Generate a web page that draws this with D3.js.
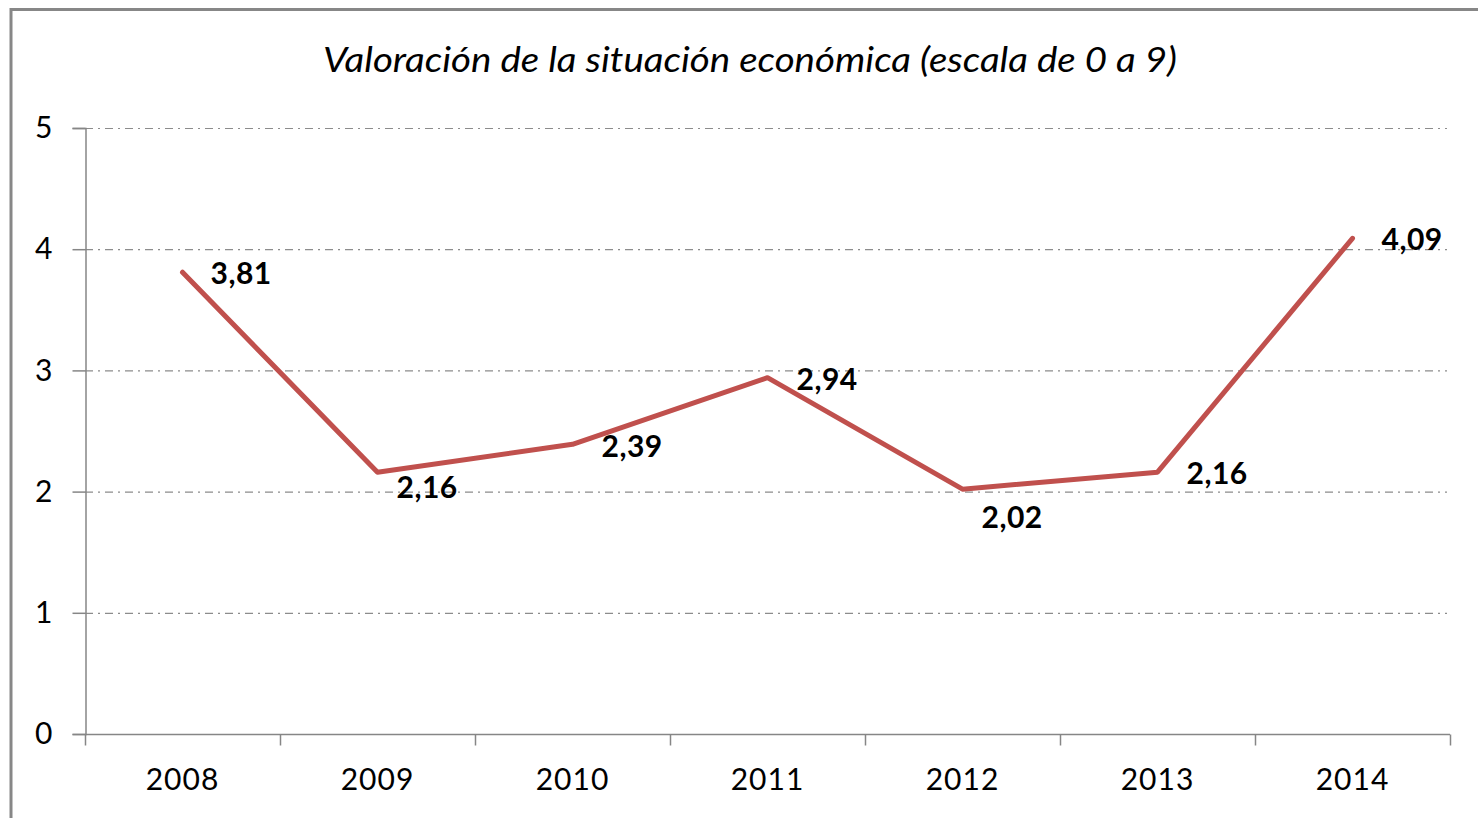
<!DOCTYPE html>
<html>
<head>
<meta charset="utf-8">
<script src="https://cdn.jsdelivr.net/npm/d3@7"></script>
<style>
  body { margin: 0; background: #fff; }
  svg { display: block; }
</style>
</head>
<body>
<svg id="chart" width="1478" height="818"></svg>
<script>
// chart data
var years = ["2008", "2009", "2010", "2011", "2012", "2013", "2014"];
var values = [3.81, 2.16, 2.39, 2.94, 2.02, 2.16, 4.09];
var yTicks = [0, 1, 2, 3, 4, 5];
var title = "Valoración de la situación económica (escala de 0 a 9)";

// label nudges (px from the point), as Excel placed them
var labelDx = [28, 19, 29, 29, 19, 29, 29];
var labelDy = [1, 15, 2, 2, 28, 1, 1];

var svg = d3.select("#chart");
var font = "Lato, 'Open Sans', sans-serif";

// plot area (note: "top" is taken by window.top, so use other names)
var plotL = 85, plotR = 1450, plotT = 128, plotB = 734;

var x = d3.scaleBand().domain(years).range([plotL, plotR]);
var y = d3.scaleLinear().domain([0, 5]).range([plotB, plotT]);

// outer frame
svg.append("rect")
    .attr("x", 11).attr("y", 9.5)
    .attr("width", 1500).attr("height", 900)
    .attr("fill", "none")
    .attr("stroke", "#878787")
    .attr("stroke-width", 3);

// title
svg.append("text")
    .attr("x", 750).attr("y", 72)
    .attr("text-anchor", "middle")
    .attr("font-family", font)
    .attr("font-style", "italic")
    .attr("font-size", 34)
    .attr("textLength", 854)
    .attr("lengthAdjust", "spacingAndGlyphs")
    .attr("fill", "#000")
    .text(title);

// gridlines
svg.append("g")
    .selectAll("line")
    .data(yTicks.filter(function(d) { return d > 0; }))
    .enter().append("line")
    .attr("x1", plotL).attr("x2", 1447)
    .attr("y1", function(d) { return y(d) + 0.5; })
    .attr("y2", function(d) { return y(d) + 0.5; })
    .attr("stroke", "#8c8c8c")
    .attr("stroke-width", 1.2)
    .attr("stroke-dasharray", "8,5,2,5");

// y axis
var yAxis = svg.append("g")
    .attr("transform", "translate(" + (plotL + 0.5) + ",0)")
    .call(d3.axisLeft(y).tickValues(yTicks).tickSize(13).tickPadding(20)
        .tickFormat(function(d) { return d; }));
yAxis.select(".domain").attr("stroke", "#868686").attr("stroke-width", 1.5);
yAxis.selectAll(".tick line").attr("stroke", "#868686").attr("stroke-width", 1.5);
yAxis.selectAll("text")
    .attr("font-family", font).attr("font-size", 30).attr("fill", "#000");

// x axis
var xAxis = svg.append("g")
    .attr("transform", "translate(0," + (plotB + 0.5) + ")");
xAxis.append("line")
    .attr("x1", plotL).attr("x2", plotR)
    .attr("stroke", "#868686").attr("stroke-width", 1.5);
xAxis.selectAll(".xtick")
    .data(years.concat(["end"]))
    .enter().append("line")
    .attr("x1", function(d, i) { return plotL + i * x.bandwidth() + 0.5; })
    .attr("x2", function(d, i) { return plotL + i * x.bandwidth() + 0.5; })
    .attr("y1", 0).attr("y2", 11)
    .attr("stroke", "#868686").attr("stroke-width", 1.5);
xAxis.selectAll("text")
    .data(years)
    .enter().append("text")
    .attr("x", function(d) { return x(d) + x.bandwidth() / 2; })
    .attr("y", 55)
    .attr("text-anchor", "middle")
    .attr("font-family", font).attr("font-size", 30)
    .attr("letter-spacing", 1).attr("fill", "#000")
    .text(function(d) { return d; });

// series line
var line = d3.line()
    .x(function(d, i) { return x(years[i]) + x.bandwidth() / 2; })
    .y(function(d) { return y(d); });

svg.append("path")
    .datum(values)
    .attr("d", line)
    .attr("fill", "none")
    .attr("stroke", "#c0504d")
    .attr("stroke-width", 5)
    .attr("stroke-linejoin", "round")
    .attr("stroke-linecap", "round");

// data labels
svg.append("g")
    .selectAll("text")
    .data(values)
    .enter().append("text")
    .attr("x", function(d, i) { return x(years[i]) + x.bandwidth() / 2 + labelDx[i]; })
    .attr("y", function(d, i) { return y(d) + labelDy[i]; })
    .attr("dy", "0.36em")
    .attr("font-family", font)
    .attr("font-weight", "bold")
    .attr("font-size", 30)
    .attr("letter-spacing", 0.5)
    .attr("fill", "#000")
    .text(function(d) { return d3.format(".2f")(d).replace(".", ","); });
</script>
</body>
</html>
